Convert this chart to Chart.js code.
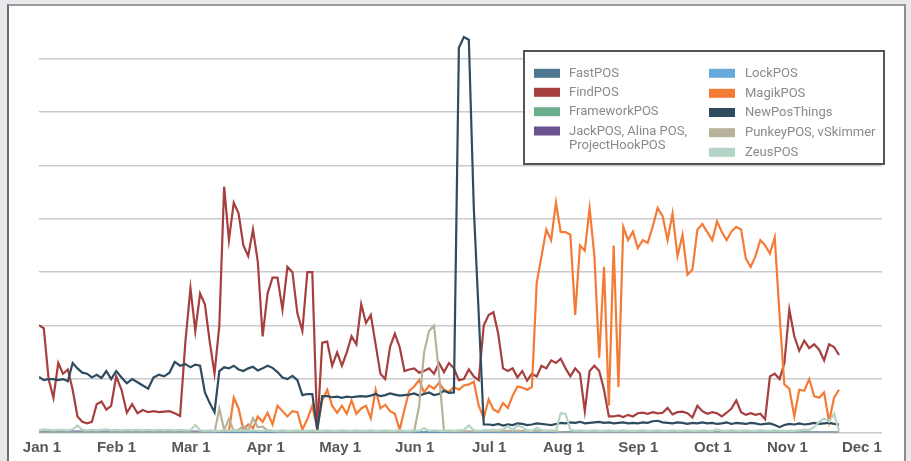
<!DOCTYPE html>
<html>
<head>
<meta charset="utf-8">
<script src="https://cdn.jsdelivr.net/npm/chart.js@4.4.0/dist/chart.umd.min.js"></script>
<style>
  html, body { margin: 0; padding: 0; background: #e8e9ed; overflow: hidden; }
  #panel {
    position: absolute; left: 7px; top: 4px; width: 899px; height: 470px;
    box-sizing: border-box; background: #fff;
    border-left: 2px solid #6e6e6e; border-top: 2px solid #9a9a9a; border-right: 2px solid #8c8c8c;
  }
  #wrap { position: absolute; left: 0; top: 0; width: 911px; height: 461px; }
</style>
</head>
<body>
<div id="panel"></div>
<div id="wrap"><canvas id="chart"></canvas></div>
<script>
// tick labels on the x axis (one per month, evenly spaced)
const monthTicks = ["Jan 1", "Feb 1", "Mar 1", "Apr 1", "May 1", "Jun 1",
  "Jul 1", "Aug 1", "Sep 1", "Oct 1", "Nov 1", "Dec 1"];
const monthLengths = [31, 28, 31, 30, 31, 30, 31, 31, 30, 31, 30, 31];

// every other day, Jan 1 .. Nov 23
const days = [];
for (let d = new Date(2014, 0, 1); d <= new Date(2014, 10, 23); d.setDate(d.getDate() + 2)) {
  days.push(new Date(d));
}

const seriesNames = ["FastPOS", "FindPOS", "FrameworkPOS", "JackPOS, Alina POS, ProjectHookPOS",
  "LockPOS", "MagikPOS", "NewPosThings", "PunkeyPOS, vSkimmer", "ZeusPOS"];
const seriesColors = ["#4e7891", "#a63f3e", "#6aae8e", "#6a5190", "#67abdd",
  "#f47b36", "#2f4b5f", "#b9b29b", "#b4d4c5"];

const fastPOS = [
  0,0,0,0,0,0,0,0,0,0,0,0,0,0,0,0,
  0,0,0,0,0,0,0,0,0,0,0,0,0,0,
  0,0,0,0,0,0,0,0,0,0,0,0,0,0,0,
  0,0,0,0,0,0,0,0,0,0,0,0,0,0,0,
  0,0,0,0,0,0,0,0,0,0,0,0,0,0,0,0,
  0,0,0,0,0,0,0,0,0,0,0,0,0,0,0,
  0,0,0,0,0,0,0,0,0,0,0,0,0,0,0,
  0,0,0,0,0,0,0,0,0,0,0,0,0,0,0,0,
  0,0,0,0,0,0,0,0,0,0,0,0,0,0,0,
  0,0,0,0,0,0,0,0,0,0,0,0,0,0,0,
  0,0,0,0,0,0,0,0,0,0,0,0
];
const findPOS = [
  20.1, 19.5, 10, 6.5, 13, 11, 11.8, 8, 3, 2, 1.7, 2, 5.3, 5.8, 4.3, 5,
  10.5, 8, 3.7, 5.3, 3.6, 4.2, 3.8, 4, 3.8, 3.9, 4, 3.6, 3.1, 17,
  27, 19, 26, 24, 17, 11, 20, 46, 36, 43, 41, 35, 33, 38, 32,
  18, 26, 29, 29, 23, 31, 30, 22.3, 19, 30, 30, 0.5, 16.8, 17, 12.5,
  15, 12.5, 15, 18, 16.5, 24, 20.5, 22, 16.5, 11, 10, 16, 18.5, 16, 11.5, 11.8,
  12, 11.2, 11.5, 12, 11, 13, 11.3, 13, 12, 9.8, 10, 11.8, 10.5, 9.8, 20,
  22, 22.5, 18.5, 12, 11.5, 12, 10.3, 11.5, 9.7, 11, 10.5, 12.5, 12, 13.5, 13,
  13.8, 12, 10.5, 12, 11, 4, 11.5, 12.5, 11.5, 8, 3, 3, 3.2, 2.9, 3.3, 3,
  3.6, 3.7, 3.5, 3.8, 3.6, 3.7, 4.6, 3.4, 3.8, 3.9, 3.6, 2.8, 5, 4, 3.5,
  3.8, 3.6, 3, 3.7, 4.5, 6, 3.8, 3.3, 3.6, 3.3, 3.5, 2.5, 10.5, 11, 10,
  13, 23, 18, 15.3, 17.2, 15.8, 16.5, 15.5, 13.5, 16.5, 16, 14.5
];
const frameworkPOS = [
  0,0,0,0,0,0,0,0,0,0,0,0,0,0,0,0,
  0,0,0,0,0,0,0,0,0,0,0,0,0,0,
  0,0,0,0,0,0,0,0,0,0,0,0,0,0,0,
  0,0,0,0,0,0,0,0,0,0,0,0,0,0,0,
  0,0,0,0,0,0,0,0,0,0,0,0,0,0,0,0,
  0,0,0,0,0,0,0,0,0,0,0,0,0,0,0,
  0,0,0,0,0,0,0,0,0,0,0,0,0,0,0,
  0,0,0,0,0,0,0,0,0,0,0,0,0,0,0,0,
  0,0,0,0,0,0,0,0,0,0,0,0,0,0,0,
  0,0,0,0,0,0,0,0,0,0,0,0,0,0,0,
  0,0,0,0,0,0,0,0,0,0,0,0
];
const jackPOS = [
  0.15,0.15,0.15,0.15,0.15,0.15,0.15,0.15,0.15,0.15,0.15,0.15,0.15,0.15,0.15,0.15,
  0.15,0.15,0.15,0.15,0.15,0.15,0.15,0.15,0.15,0.15,0.15,0.15,0.15,0.15,
  0.15,0.15,0.1,0,0,0,0,0,0,0,0,0,0,0,0,
  0,0,0,0,0,0,0,0,0,0,0,0,0,0,0,
  0,0,0,0,0,0,0,0,0,0,0,0,0,0,0,0,
  0,0,0,0,0,0,0,0,0,0,0,0,0,0,0,
  0,0.2,0.2,0.25,0.2,0.2,0.25,0.2,0,0,0,0,0,0,0,
  0,0,0,0,0,0,0,0,0,0,0,0,0,0,0,0,
  0,0,0,0,0,0,0,0,0,0,0,0,0,0,0,
  0,0,0,0,0,0,0,0,0,0,0,0,0,0,0,
  0,0,0,0,0,0,0,0,0,0,0,0
];
const lockPOS = [
  0,0,0,0,0,0,0,0,0,0,0,0,0,0,0,0,
  0,0,0,0,0,0,0,0,0,0,0,0,0,0,
  0,0,0,0,0,0,0,0,0,0,0,0,0,0,0,
  0,0,0,0,0,0,0,0,0,0,0,0,0,0,0,
  0,0,0,0,0,0,0,0,0,0,0,0,0,0,0,0,
  0,0,0,0,0,0,0,0,0,0,0,0,0,0,0,
  0,0,0,0,0,0,0,0,0,0,0,0,0,0,0,
  0,0,0,0,0,0,0,0,0,0,0,0,0,0,0,0,
  0,0,0,0,0,0,0,0,0,0,0,0,0,0,0,
  0,0,0,0,0,0,0,0,0,0,0,0,0,0,0,
  0,0,0,0,0,0,0,0,0,0,0,0
];
const magikPOS = [
  null,null,null,null,null,null,null,null,null,null,null,null,null,null,null,null,
  null,null,null,null,null,null,null,null,null,null,null,null,null,null,
  null,null,null,null,null,null, 0.2, 0.3, 0.3, 6.5, 4.5, 0.5, 1.5, 0.8, 3,
  2, 3.7, 1.5, 5, 4, 3, 4, 3.8, 0.5, 2.5, 5, 0.7, 6, 8, 5,
  3.7, 5, 3.5, 6, 3.5, 4.5, 5, 2.7, 8, 4.5, 5.2, 4, 3.5, 0.5, 4.3, 7.8,
  8.6, 9.8, 7.5, 8.8, 8.2, 9.3, 8, 7.6, 8.5, 8, 8.8, 9, 9.5, 5, 2.7,
  6.2, 4.3, 3.8, 5.5, 4.6, 6.9, 8.6, 8.4, 8, 8.5, 28, 33, 38, 36, 43,
  37.5, 37.5, 37, 22, 35, 34, 42, 33, 14, 31, 5, 35, 8.5, 38.5, 36, 37.6,
  34.5, 36, 35.5, 38.5, 42, 40.5, 36, 41, 33, 37, 29.5, 30.5, 38, 39, 37.5,
  36, 39.5, 37.5, 36, 37.6, 38.5, 38, 32.5, 31, 33, 36, 35, 33.5, 36.5, 22,
  9, 8.2, 3, 8, 7.8, 10, 6.8, 6.5, 7.5, 2, 6.5, 8
];
const newPosThings = [
  10.4, 9.8, 10, 10, 9.8, 10, 9.6, 13, 12, 11.2, 11, 10.3, 10.8, 10.2, 11.5, 10,
  11.5, 10.3, 9.2, 10, 9.4, 8.8, 8.2, 10.3, 10.8, 10.5, 11.2, 13.2, 12.5, 12.8,
  12.2, 12.7, 12.5, 7.5, 5.5, 3.8, 11.5, 12.2, 12, 12.5, 11.8, 11.5, 12, 12.3, 11.6,
  12, 12.5, 12.1, 11.3, 10.3, 10, 10.6, 9.8, 7, 7.2, 7.2, 0.5, 6.8, 6.8, 6.6,
  6.7, 6.5, 6.7, 6.6, 6.7, 6.8, 6.7, 6.9, 7.2, 6.8, 7, 7.3, 7.1, 6.9, 7, 7.1,
  7.3, 6.9, 7.2, 7.5, 7, 7.2, 7.8, 7.4, 7.5, 72, 74, 73.5, 42, 22, 1.5,
  1.5, 1.4, 1.6, 1.3, 1.5, 1.4, 1.7, 1.6, 1.4, 1.5, 1.7, 1.6, 1.5, 1.4, 1.6,
  1.8, 1.7, 1.9, 1.8, 2, 1.7, 1.8, 1.9, 2, 1.8, 1.9, 1.7, 1.8, 1.9, 1.7, 1.8,
  1.7, 1.9, 1.8, 2.1, 2.2, 1.9, 1.8, 1.7, 1.9, 1.8, 1.6, 1.8, 1.7, 1.9, 1.7,
  1.8, 1.6, 1.7, 1.9, 1.6, 1.8, 1.7, 1.6, 1.8, 1.7, 1.5, 1.6, 1.7, 1.4, 1.0,
  1.4, 1.6, 1.5, 1.7, 1.5, 1.6, 1.8, 1.6, 1.7, 1.8, 1.6, 1.5
];
const punkeyPOS = [
  0,0,0,0,0,0,0,0,0,0,0,0,0,0,0,0,
  0,0,0,0,0,0,0,0,0,0,0,0,0,0,
  0,0,0,0,0,0, 4.5, 0.5, 2.5, 0.3, 0.5, 1.2, 0.3, 2.7, 1,
  1.1, 0.4, 0.3, 0,0,0,0,0,0,0,0,0,0,0,0,
  0,0,0,0,0,0,0,0,0,0,0,0,0,0,0,0,
  0.2, 5, 15, 19, 20, 11, 0.3, 0.2, 0.2, 0.2, 0.2, 0.2, 0.2, 0.2, 0.3,
  0.3,0.3,0.3,0.3,0.3,0.3,0.3,0.3,0.3,0.3,0.3,0.3,0.3,0.3,0.3,
  0,0,0,0,0,0,0,0,0,0,0,0,0,0,0,0,
  0,0,0,0,0,0,0,0,0,0,0,0,0,0,0,
  0,0,0,0,0,0,0,0,0,0,0,0,0,0,0,
  0,0,0,0,0,0,0,0,0,0,0,0
];
const zeusPOS = [
  0.4, 0.6, 0.5, 0.4, 0.5, 0.5, 0.4, 0.6, 1.3, 0.5, 0.4, 0.5, 0.4, 0.5, 0.6, 0.4,
  0.5, 0.4, 0.5, 0.4, 0.5, 0.4, 0.5, 0.4, 0.5, 0.4, 0.5, 0.4, 0.5, 0.4,
  0.4, 1.4, 0.4, 0.3, 0.4, 0.3, 0.3, 0.4, 0.3, 0.4, 0.3, 0.4, 0.3, 0.4, 0.3,
  0.3, 0.4, 0.3, 0.3, 0.4, 0.3, 0.3, 0.4, 0.3, 0.3, 0.4, 0.3, 0.3, 0.4, 0.3,
  0.3, 0.4, 0.3, 0.3, 0.4, 0.3, 0.3, 0.4, 0.3, 0.3, 0.4, 0.3, 0.3, 0.4, 0.3, 0.3,
  0.4, 0.3, 0.8, 0.3, 0.4, 0.3, 0.3, 0.4, 0.3, 0.4, 0.5, 1.3, 0.4, 0.3, 0.4,
  0.4, 0.5, 0.4, 0.6, 1.2, 0.5, 1.3, 1.0, 0.4, 0.3, 0.9, 0.4, 0.3, 0.4, 0.3,
  3.6, 3.5, 0.5, 0.3, 0.4, 0.3, 0.3, 0.4, 0.3, 0.3, 0.4, 0.3, 0.3, 0.4, 0.3, 0.3,
  0.3, 0.4, 0.3, 0.3, 0.4, 0.3, 0.3, 0.4, 0.3, 0.3, 0.4, 0.3, 0.3, 0.4, 0.3,
  0.3, 0.6, 0.3, 0.3, 0.4, 0.3, 0.3, 0.4, 0.3, 0.3, 0.4, 0.3, 0.3, 0.4, 0.3,
  0.3, 0.3, 0.3, 0.4, 0.5, 0.5, 1.0, 2.0, 2.6, 2.0, 3.5, 0.2
];

const seriesValues = [fastPOS, findPOS, frameworkPOS, jackPOS, lockPOS,
  magikPOS, newPosThings, punkeyPOS, zeusPOS];

// months are drawn evenly spaced, so a day sits at month index + fraction of its month
const dayPos = days.map(d => d.getMonth() + (d.getDate() - 1) / monthLengths[d.getMonth()]);

const legendRows = [
  [534, 569, [73.3, 92.3, 111.7, 131]],
  [709, 745, [73.3, 93.3, 112.5, 132.7, 152.3]]
];

const boxLegend = {
  id: "boxLegend",
  afterDraw(chart) {
    const ctx = chart.ctx;
    ctx.save();
    ctx.fillStyle = "#fff";
    ctx.fillRect(524, 51, 360, 113);
    ctx.lineWidth = 2;
    ctx.strokeStyle = "#555";
    ctx.strokeRect(524, 51, 360, 113);
    ctx.font = "13px Roboto";
    ctx.textBaseline = "middle";
    chart.data.datasets.forEach((ds, i) => {
      const col = i < 4 ? 0 : 1;
      const row = col === 0 ? i : i - 4;
      const [sx, tx, ys] = legendRows[col];
      const y = ys[row];
      ctx.fillStyle = ds.borderColor;
      ctx.fillRect(sx, y - 4.5, 26, 9);
      // wrap long labels
      const words = ds.label.split(" ");
      const lines = [];
      let line = "";
      words.forEach(w => {
        const test = line ? line + " " + w : w;
        if (ctx.measureText(test).width > 140 && line) {
          lines.push(line);
          line = w;
        } else {
          line = test;
        }
      });
      lines.push(line);
      ctx.fillStyle = "#8a8a8a";
      lines.forEach((l, k) => ctx.fillText(l, tx, y + 0.5 + k * 14));
    });
    ctx.restore();
  }
};

new Chart(document.getElementById("chart"), {
  type: "line",
  data: {
    datasets: seriesNames.map((name, i) => ({
      label: name,
      data: seriesValues[i].map((v, k) => ({ x: dayPos[k], y: v })),
      borderColor: seriesColors[i],
      backgroundColor: seriesColors[i],
      borderWidth: 2.2,
      pointRadius: 0,
      tension: 0,
      order: seriesNames.length - i,
    })),
  },
  options: {
    responsive: true,
    maintainAspectRatio: false,
    animation: false,
    layout: { padding: { left: 39, right: 29, top: 5, bottom: 0 } },
    plugins: {
      legend: { display: false },
      tooltip: { enabled: false },
    },
    scales: {
      x: {
        type: "linear",
        min: 0,
        max: 11.31,
        afterFit: (scale) => { scale.height = 28.5; },
        grid: { display: false, drawTicks: false },
        border: { display: false },
        ticks: {
          stepSize: 1,
          includeBounds: false,
          autoSkip: false,
          maxRotation: 0,
          labelOffset: 3,
          padding: 6,
          color: "#585858",
          font: { family: "Liberation Sans", weight: "bold", size: 15 },
          callback: (v) => (Number.isInteger(v) ? monthTicks[v] : ""),
        },
      },
      y: {
        min: 0,
        max: 80,
        afterFit: (scale) => { scale.width = 0; },
        border: { display: false },
        grid: {
          drawTicks: false,
          lineWidth: 1.5,
          color: (c) => (c.tick && c.tick.value >= 80 ? "rgba(0,0,0,0)" : "#cbcbcb"),
        },
        ticks: { display: false, stepSize: 10 },
      },
    },
  },
  plugins: [boxLegend],
});
</script>
</body>
</html>
